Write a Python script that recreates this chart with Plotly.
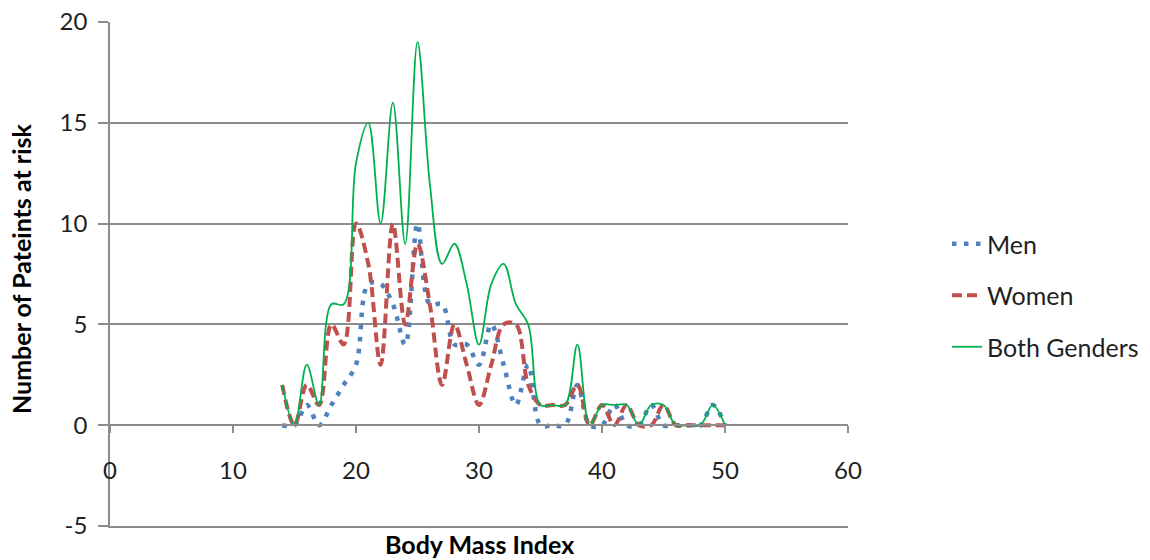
import plotly.graph_objects as go

# Body Mass Index values (integer BMI from 14 to 50)
bmi = list(range(14, 51))

# Number of patients at risk for each BMI value
men = [0, 0, 1, 0, 1, 2, 3, 7, 7, 6, 4, 10, 6, 6, 4, 4, 3, 5, 3, 1, 3, 0,
       0, 0, 2, 0, 0, 1, 0, 0, 1, 0, 0, 0, 0, 1, 0]
women = [2, 0, 2, 1, 5, 4, 10, 8, 3, 10, 5, 9, 6, 2, 5, 3, 1, 3, 5, 5, 2, 1,
         1, 1, 2, 0, 1, 0, 1, 0, 0, 1, 0, 0, 0, 0, 0]
both = [2, 0, 3, 1, 6, 6, 13, 15, 10, 16, 9, 19, 12, 8, 9, 7, 4, 7, 8, 6, 5, 1,
        1, 1, 4, 0, 1, 1, 1, 0, 1, 1, 0, 0, 0, 1, 0]

series_names = ["Men", "Women", "Both Genders"]

x_ticks = [0, 10, 20, 30, 40, 50, 60]
y_ticks = [-5, 0, 5, 10, 15, 20]

FONT = "Lato"
TEXT = "#1f1f1f"
GRID = "#8c8c8c"
W, H = 1150, 560

fig = go.Figure()

fig.add_trace(go.Scatter(
    x=bmi, y=men, name=series_names[0], mode="lines", legendgroup="a",
    line=dict(color="#4F81BD", width=4.5, dash="4.5px,7.5px", shape="spline", smoothing=1.0),
))
fig.add_trace(go.Scatter(
    x=bmi, y=women, name=series_names[1], mode="lines", legendgroup="b",
    line=dict(color="#C0504D", width=4, dash="10px,5px", shape="spline", smoothing=1.0),
))
fig.add_trace(go.Scatter(
    x=bmi, y=both, name=series_names[2], mode="lines", legendgroup="c",
    line=dict(color="#00B050", width=1.8, shape="spline", smoothing=1.0),
))

# invisible helper trace so the bottom frame line (at y = -5) is drawn by an axis
fig.add_trace(go.Scatter(x=[None], y=[None], xaxis="x2", showlegend=False,
                         hoverinfo="skip"))

fig.update_layout(
    width=W, height=H,
    margin=dict(l=110, r=302, t=22, b=34, autoexpand=False),
    paper_bgcolor="white", plot_bgcolor="white",
    font=dict(family=FONT, size=24, color=TEXT),
    showlegend=True,
    legend=dict(
        xref="container", yref="container",
        x=947 / W, y=1 - 221 / H, xanchor="left", yanchor="top",
        font=dict(family=FONT, size=25, color=TEXT),
        traceorder="grouped", tracegroupgap=16, bgcolor="rgba(0,0,0,0)",
    ),
    xaxis=dict(
        range=[0, 60], tickvals=x_ticks, ticktext=[str(v) for v in x_ticks],
        anchor="free", position=0.2, automargin=False,
        showgrid=False, zeroline=False,
        showline=True, linecolor=GRID, linewidth=1.5,
        ticks="outside", ticklen=7, tickcolor=GRID, tickwidth=1.5,
        ticklabelstandoff=17,
        tickfont=dict(family=FONT, size=24, color=TEXT),
    ),
    xaxis2=dict(
        range=[0, 60], overlaying="x", anchor="y", side="bottom", automargin=False,
        showgrid=False, zeroline=False, showticklabels=False, ticks="",
        showline=True, linecolor=GRID, linewidth=1.5,
    ),
    yaxis=dict(
        range=[-5, 20], tickvals=y_ticks, ticktext=[str(v) for v in y_ticks],
        automargin=False,
        showgrid=True, gridcolor=GRID, gridwidth=1.5, zeroline=False,
        showline=True, linecolor=GRID, linewidth=1.5,
        ticks="outside", ticklen=10, tickcolor=GRID, tickwidth=1.5,
        ticklabelstandoff=6,
        tickfont=dict(family=FONT, size=24, color=TEXT),
    ),
    annotations=[
        dict(text="<b>Number of Pateints at risk</b>", textangle=-90,
             xref="paper", yref="paper", x=(21 - 110) / 738, y=0.51,
             xanchor="center", yanchor="middle", showarrow=False,
             font=dict(family=FONT, size=25, color="black")),
        dict(text="<b>Body Mass Index</b>",
             xref="paper", yref="paper", x=(480 - 110) / 738, y=(526 - 544) / 504,
             xanchor="center", yanchor="middle", showarrow=False,
             font=dict(family=FONT, size=25, color="black")),
    ],
)

fig.write_html("out.html")
